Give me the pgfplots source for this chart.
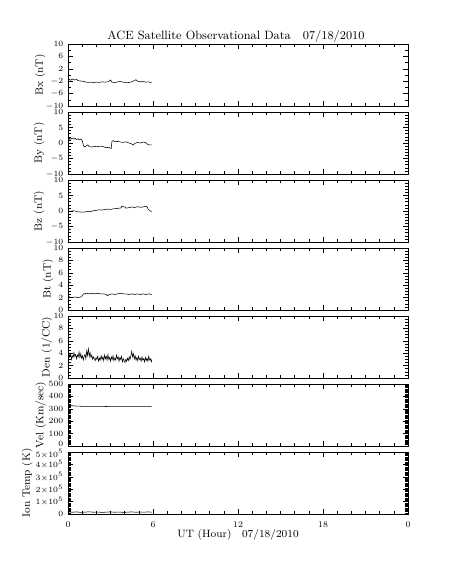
\documentclass[border=0pt]{standalone}
\usepackage{pgfplots}
\pgfplotsset{compat=1.18}
\pgfplotsset{
  panel/.style={
    width=255pt, height=46.5pt, scale only axis,
    anchor=north west,
    xmin=0, xmax=24, xtick={0,6,12,18,24}, minor x tick num=5,
    xticklabels={},
    tick align=inside,
    axis line style={line width=0.5pt},
    every tick/.style={black, line width=0.4pt},
    major tick length=4pt, minor tick length=2.2pt,
    tick label style={font=\fontsize{6.5}{7.5}\selectfont},
    label style={font=\fontsize{8}{9.5}\selectfont},
    cycle list={{black, line width=0.4pt, no marks}},
    scaled y ticks=false,
    ylabel style={at={(axis description cs:#1,0.5)}, anchor=center, rotate=0},
  },
  panel/.default={-0.082}
}
\begin{document}
\begin{tikzpicture}
\path[use as bounding box] (0,0) rectangle (339.75pt,-424.5pt);
\node[font=\fontsize{9}{11}\selectfont] at (177pt,-27.5pt) {ACE Satellite Observational Data\quad 07/18/2010};

% Bx
\begin{axis}[panel={-0.082}, at={(51pt,-33pt)}, ymin=-10, ymax=10, ytick={-10,-6,-2,2,6,10}, minor y tick num=1, ylabel={Bx (nT)}]
\addplot coordinates {(0,-1.6) (0.1,-1.4) (0.2,-1.7) (0.3,-1.3) (0.4,-1.5) (0.5,-1.6) (0.6,-1.4) (0.7,-1.8) (0.8,-1.9) (1.0,-2.0) (1.2,-2.2) (1.4,-2.4) (1.6,-2.3) (1.8,-2.5) (2.0,-2.3) (2.2,-2.4) (2.4,-2.2) (2.6,-2.3) (2.8,-2.2) (2.9,-2.0) (3.0,-1.6) (3.1,-2.3) (3.3,-2.5) (3.5,-2.2) (3.7,-2.1) (3.9,-2.3) (4.1,-2.5) (4.3,-2.4) (4.5,-2.2) (4.7,-1.8) (4.8,-1.5) (4.9,-2.0) (5.1,-2.2) (5.3,-2.1) (5.5,-2.3) (5.7,-2.2) (5.9,-2.5)};
\end{axis}

% By
\begin{axis}[panel={-0.085}, at={(51pt,-84pt)}, ymin=-10, ymax=10, ytick={-10,-5,0,5,10}, minor y tick num=4, ylabel={By (nT)}]
\addplot coordinates {(0,0.3) (0.1,1.5) (0.2,1.2) (0.3,1.6) (0.4,1.3) (0.5,1.5) (0.6,1.1) (0.7,1.4) (0.8,1.0) (0.9,1.3) (1.0,0.8) (1.1,-1.0) (1.2,-1.3) (1.3,-0.8) (1.4,-0.6) (1.5,-1.2) (1.7,-1.3) (1.9,-1.1) (2.1,-1.2) (2.3,-1.0) (2.5,-1.2) (2.7,-1.5) (2.9,-1.4) (3.05,-1.8) (3.1,0.5) (3.2,0.8) (3.3,0.4) (3.5,0.5) (3.7,0.3) (3.9,0.2) (4.1,0.4) (4.3,0.0) (4.5,-0.3) (4.6,-0.7) (4.7,-0.2) (4.9,0.2) (5.1,0.0) (5.3,0.3) (5.5,0.1) (5.6,-0.4) (5.7,-0.6) (5.9,-0.6)};
\end{axis}

% Bz
\begin{axis}[panel={-0.085}, at={(51pt,-135pt)}, ymin=-10, ymax=10, ytick={-10,-5,0,5,10}, minor y tick num=4, ylabel={Bz (nT)}]
\addplot coordinates {(0,0.0) (0.2,-0.1) (0.4,0.1) (0.6,-0.2) (0.8,-0.3) (1.0,-0.4) (1.2,-0.3) (1.4,-0.1) (1.6,-0.2) (1.8,0.1) (2.0,0.2) (2.2,0.4) (2.4,0.3) (2.6,0.5) (2.8,0.6) (3.0,0.5) (3.2,0.7) (3.4,0.8) (3.6,0.9) (3.75,1.0) (3.8,1.6) (3.9,1.4) (4.0,1.3) (4.1,0.9) (4.3,1.1) (4.5,1.3) (4.7,1.1) (4.9,1.4) (5.1,1.2) (5.3,1.3) (5.5,1.5) (5.6,1.2) (5.65,0.6) (5.75,0.2) (5.9,-0.3)};
\end{axis}

% Bt
\begin{axis}[panel={-0.059}, at={(51pt,-186pt)}, ymin=0, ymax=10, ytick={0,2,4,6,8,10}, minor y tick num=3, ylabel={Bt (nT)}]
\addplot coordinates {(0,2.3) (0.1,2.1) (0.3,2.0) (0.5,2.1) (0.7,2.0) (0.9,2.1) (1.0,2.3) (1.1,2.6) (1.3,2.7) (1.5,2.6) (1.7,2.7) (1.9,2.6) (2.1,2.7) (2.3,2.6) (2.5,2.6) (2.7,2.5) (2.8,2.3) (2.9,2.5) (3.1,2.6) (3.3,2.5) (3.5,2.6) (3.7,2.7) (3.9,2.6) (4.1,2.6) (4.3,2.5) (4.5,2.6) (4.7,2.5) (4.9,2.6) (5.1,2.5) (5.3,2.6) (5.5,2.5) (5.7,2.6) (5.9,2.5)};
\end{axis}

% Den
\begin{axis}[panel={-0.062}, at={(51pt,-237pt)}, ymin=0, ymax=10, ytick={0,2,4,6,8,10}, minor y tick num=3, ylabel={Den (1/CC)}]
\addplot coordinates {(0,3.2) (0.06,4.0) (0.12,3.4) (0.18,3.9) (0.24,3.0) (0.3,3.6) (0.36,3.3) (0.42,4.1) (0.48,3.5) (0.54,3.8) (0.6,3.1) (0.66,3.7) (0.72,3.4) (0.78,4.2) (0.84,3.3) (0.9,3.9) (0.96,3.2) (1.02,3.6) (1.08,2.9) (1.14,3.5) (1.2,3.8) (1.26,3.1) (1.32,4.4) (1.38,3.6) (1.44,4.7) (1.5,3.5) (1.56,4.1) (1.62,3.3) (1.68,3.7) (1.74,3.0) (1.8,3.4) (1.86,3.1) (1.92,2.8) (1.98,3.3) (2.04,3.0) (2.1,3.5) (2.16,2.7) (2.22,3.2) (2.28,2.9) (2.34,3.6) (2.4,3.0) (2.46,3.4) (2.52,2.8) (2.58,3.7) (2.64,3.1) (2.7,3.5) (2.76,2.9) (2.82,3.8) (2.88,3.0) (2.94,3.3) (3.0,2.7) (3.06,3.4) (3.12,3.0) (3.18,3.6) (3.24,2.8) (3.3,3.2) (3.36,2.9) (3.42,3.7) (3.48,3.1) (3.54,3.4) (3.6,2.7) (3.66,3.3) (3.72,3.0) (3.78,3.5) (3.84,2.6) (3.9,3.1) (3.96,2.8) (4.02,2.5) (4.08,3.0) (4.14,2.7) (4.2,3.2) (4.26,2.8) (4.32,3.4) (4.38,3.0) (4.44,3.6) (4.5,4.3) (4.56,3.4) (4.62,3.9) (4.68,3.1) (4.74,3.6) (4.8,2.9) (4.86,3.3) (4.92,2.8) (4.98,3.5) (5.04,3.0) (5.1,3.2) (5.16,2.7) (5.22,3.4) (5.28,2.9) (5.34,3.1) (5.4,2.6) (5.46,3.3) (5.52,2.8) (5.58,3.2) (5.64,2.7) (5.7,3.5) (5.76,2.9) (5.82,3.1) (5.88,2.6) (5.92,3.0)};
\end{axis}

% Vel
\begin{axis}[panel={-0.08}, at={(51pt,-288pt)}, ymin=0, ymax=500, ytick={0,100,200,300,400,500},
  yticklabels={{\raisebox{1.5pt}[\height][\depth]{$0$}},$100$,$200$,$300$,$400$,$500$},
  minor y tick num=9, ylabel={Vel (Km/sec)}]
\addplot coordinates {(0,328) (0.1,330) (0.2,326) (0.4,324) (0.6,322) (0.8,321) (1.0,320) (1.5,320) (2.0,319) (2.5,319) (3.0,318) (3.5,318) (4.0,318) (4.5,318) (5.0,317) (5.5,317) (5.9,317)};
\end{axis}

% Temp
\begin{axis}[panel={-0.12}, at={(51pt,-339pt)}, ymin=0, ymax=500000, ytick={0,100000,200000,300000,400000,500000},
  yticklabels={$0$,$1{\times}10^5$,$2{\times}10^5$,$3{\times}10^5$,$4{\times}10^5$,{\raisebox{-1.5pt}[\height][\depth]{$5{\times}10^5$}}},
  yticklabel style={font=\fontsize{6}{7}\selectfont},
  minor y tick num=9, ylabel={Ion Temp (K)},
  xticklabels={0,6,12,18,0}, xlabel={UT (Hour)\quad 07/18/2010},
  xticklabel style={yshift=-2pt, font=\fontsize{6.5}{7.5}\selectfont},
  xlabel style={yshift=5pt}]
\addplot coordinates {(0,16000) (0.3,14000) (0.6,17000) (0.9,13000) (1.2,15000) (1.5,18000) (1.8,14000) (2.1,16000) (2.4,13000) (2.7,15000) (3.0,17000) (3.3,14000) (3.6,16000) (3.9,13000) (4.2,15000) (4.5,17000) (4.8,14000) (5.1,16000) (5.4,15000) (5.7,17000) (5.9,14000)};
\end{axis}
\end{tikzpicture}
\end{document}
